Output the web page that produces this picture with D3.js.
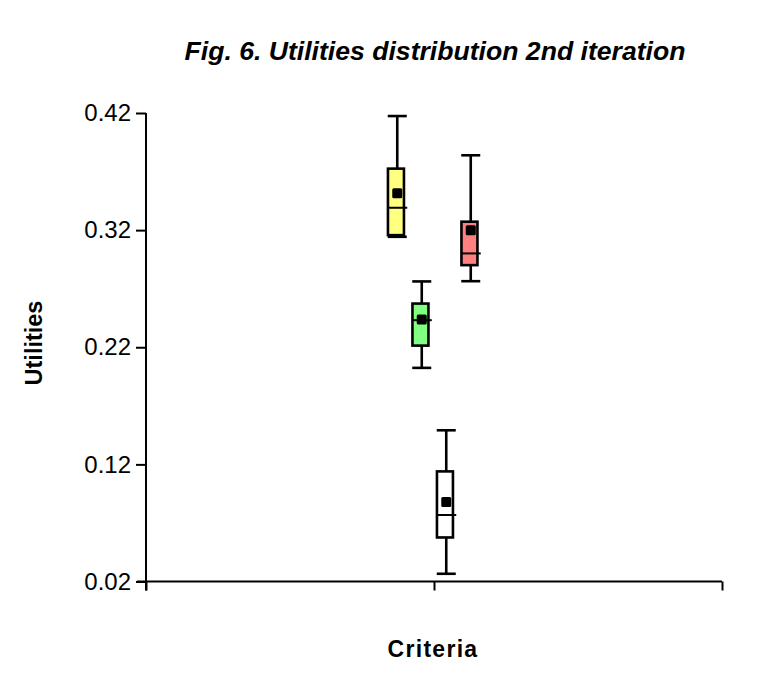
<!DOCTYPE html>
<html>
<head>
<meta charset="utf-8">
<script src="https://cdn.jsdelivr.net/npm/d3@7"></script>
<style>
  html, body { margin: 0; padding: 0; background: #fff; }
  text { font-family: Arial, "Liberation Sans", sans-serif; fill: #000; }
</style>
</head>
<body>
<svg id="chart" width="771" height="700"></svg>
<script>
// ---- data ----
const categories = ["Criteria"];
const seriesNames = ["S1", "S2", "S3", "S4"];
const seriesColors = ["#FFFF80", "#80FF80", "#FFFFFF", "#FF8080"];
const whiskerLow  = [0.3143, 0.2024, 0.0266, 0.2764];
const q1Values    = [0.3157, 0.2214, 0.0576, 0.2901];
const medians     = [0.3391, 0.2431, 0.0768, 0.3001];
const q3Values    = [0.3725, 0.2573, 0.1140, 0.3272];
const whiskerHigh = [0.4174, 0.2762, 0.1491, 0.3839];
const means       = [0.3514, 0.2437, 0.0879, 0.3200];
const yTickValues = [0.02, 0.12, 0.22, 0.32, 0.42];
const xTickValues = [0, 1, 2];

(function () {
const svg = d3.select("#chart");
const pL = 146, pR = 722, pT = 113, pB = 581.5;

const y = d3.scaleLinear().domain([0.02, 0.42]).range([pB, pT]);
const x = d3.scaleLinear().domain([0, 2]).range([pL, pR]);
const inner = d3.scaleBand().domain(seriesNames).range([-49, 49]);

// title
svg.append("text")
  .attr("x", 435).attr("y", 60)
  .attr("text-anchor", "middle")
  .style("font-size", "26.6px").style("font-weight", "bold").style("font-style", "italic")
  .text("Fig. 6. Utilities distribution 2nd iteration");

// y axis
const yAxis = svg.append("g").attr("transform", `translate(${pL},0)`)
  .call(d3.axisLeft(y).tickValues(yTickValues).tickFormat(d3.format(".2f")).tickSize(10).tickPadding(5));
yAxis.select(".domain").attr("d", `M0,${pT}V${pB + 9}`).attr("stroke-width", 2);
yAxis.selectAll(".tick line").attr("stroke-width", 2);
yAxis.selectAll(".tick text").style("font-size", "24px").attr("fill", "#000");

// x axis
const xAxis = svg.append("g").attr("transform", `translate(0,${pB})`)
  .call(d3.axisBottom(x).tickValues(xTickValues).tickFormat("").tickSize(9));
xAxis.select(".domain").attr("d", `M${pL - 9},0H${pR}`).attr("stroke-width", 2);
xAxis.selectAll(".tick line").attr("stroke-width", 2);

// axis titles
svg.append("text")
  .attr("transform", "translate(42,343) rotate(-90)")
  .attr("text-anchor", "middle")
  .style("font-size", "23.5px").style("font-weight", "bold")
  .text("Utilities");
svg.append("text")
  .attr("x", 433).attr("y", 657)
  .attr("text-anchor", "middle")
  .style("font-size", "23px").style("font-weight", "bold").style("letter-spacing", "1.3px")
  .text(categories[0]);

// boxes
const data = seriesNames.map((s, i) => ({
  s, color: seriesColors[i], lo: whiskerLow[i], q1: q1Values[i], med: medians[i],
  q3: q3Values[i], hi: whiskerHigh[i], mean: means[i]
}));
const cx = d => x(1) + inner(d.s) + inner.bandwidth() / 2;
const g = svg.append("g").selectAll("g").data(data).join("g");
const sw = 2.6;
// whiskers
g.append("line").attr("x1", cx).attr("x2", cx)
  .attr("y1", d => y(d.hi)).attr("y2", d => y(d.q3)).attr("stroke", "#000").attr("stroke-width", sw);
g.append("line").attr("x1", cx).attr("x2", cx)
  .attr("y1", d => y(d.q1)).attr("y2", d => y(d.lo)).attr("stroke", "#000").attr("stroke-width", sw);
// caps
g.append("line").attr("x1", d => cx(d) - 9.5).attr("x2", d => cx(d) + 9.5)
  .attr("y1", d => y(d.hi)).attr("y2", d => y(d.hi)).attr("stroke", "#000").attr("stroke-width", sw);
g.append("line").attr("x1", d => cx(d) - 9.5).attr("x2", d => cx(d) + 9.5)
  .attr("y1", d => y(d.lo)).attr("y2", d => y(d.lo)).attr("stroke", "#000").attr("stroke-width", sw);
// box
g.append("rect").attr("x", d => cx(d) - 9.3).attr("width", 16)
  .attr("y", d => y(d.q3)).attr("height", d => y(d.q1) - y(d.q3))
  .attr("fill", d => d.color).attr("stroke", "#000").attr("stroke-width", sw);
// median
g.append("line").attr("x1", d => cx(d) - 9.3).attr("x2", d => cx(d) + 10)
  .attr("y1", d => y(d.med)).attr("y2", d => y(d.med)).attr("stroke", "#000").attr("stroke-width", 2);
// mean
g.append("rect").attr("x", d => cx(d) - 5).attr("y", d => y(d.mean) - 5)
  .attr("width", 10).attr("height", 10).attr("rx", 1.5).attr("fill", "#000");
})();
</script>
</body>
</html>
